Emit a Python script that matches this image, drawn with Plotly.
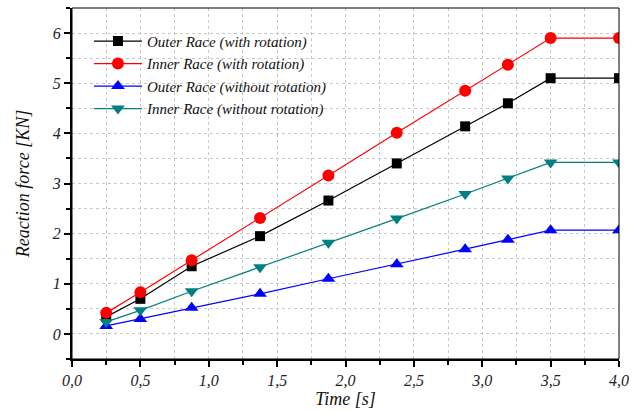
import plotly.graph_objects as go

time_s = [0.25, 0.5, 0.875, 1.375, 1.875, 2.375, 2.875, 3.1875, 3.5, 4.0]
outer_with = [0.34, 0.70, 1.35, 1.95, 2.66, 3.40, 4.14, 4.60, 5.10, 5.10]
inner_with = [0.42, 0.83, 1.47, 2.31, 3.16, 4.01, 4.85, 5.37, 5.90, 5.90]
outer_without = [0.16, 0.30, 0.52, 0.80, 1.10, 1.39, 1.69, 1.88, 2.07, 2.07]
inner_without = [0.24, 0.47, 0.85, 1.33, 1.82, 2.30, 2.79, 3.10, 3.42, 3.42]

x_tick_vals = [0.0, 0.5, 1.0, 1.5, 2.0, 2.5, 3.0, 3.5, 4.0]
x_tick_text = ["0,0", "0,5", "1,0", "1,5", "2,0", "2,5", "3,0", "3,5", "4,0"]
y_tick_vals = [0, 1, 2, 3, 4, 5, 6]

series = [
    ("Outer Race (with rotation)", outer_with, "#000000", "square", 10),
    ("Inner Race (with rotation)", inner_with, "#ff0000", "circle", 12),
    ("Outer Race (without rotation)", outer_without, "#0000ff", "triangle-up", 12),
    ("Inner Race (without rotation)", inner_without, "#008080", "triangle-down", 12),
]

FONT = "Liberation Serif, Times New Roman, serif"

fig = go.Figure()
for name, vals, color, sym, size in series:
    fig.add_trace(go.Scatter(
        x=time_s, y=vals, name=name, mode="lines+markers",
        line=dict(color=color, width=1.2),
        marker=dict(symbol=sym, size=size, color=color),
    ))

fig.update_layout(
    width=641, height=412,
    margin=dict(l=72, r=22, t=8, b=49),
    paper_bgcolor="white", plot_bgcolor="white",
    font=dict(family=FONT, size=15, color="#222222", style="italic"),
    showlegend=True,
    legend=dict(
        x=0.031, y=0.952, xanchor="left", yanchor="top",
        bgcolor="rgba(0,0,0,0)",
        font=dict(family=FONT, size=15, color="#111111", style="italic"),
        tracegroupgap=0, itemsizing="trace", itemwidth=48,
    ),
    shapes=[dict(type="rect", xref="paper", yref="paper", x0=0, y0=0, x1=1, y1=1,
                 line=dict(color="black", width=1))],
)

fig.update_xaxes(
    range=[0, 4], tickvals=x_tick_vals, ticktext=x_tick_text,
    showline=True, linecolor="black", linewidth=2,
    ticks="outside", ticklen=6, tickwidth=1.5, tickcolor="black",
    showgrid=True, gridcolor="#c8c8c8", griddash="dot", gridwidth=1,
    minor=dict(dtick=0.25, tick0=0, ticks="outside", ticklen=4, tickcolor="black",
               showgrid=True, gridcolor="#c8c8c8", griddash="dot", gridwidth=1),
    zeroline=False,
    title=dict(text="Time [s]", font=dict(family=FONT, size=18, style="italic", color="#111111"), standoff=2),
    tickfont=dict(family=FONT, size=16, style="italic"),
)
fig.update_yaxes(
    range=[-0.5, 6.5], tickvals=y_tick_vals,
    showline=True, linecolor="black", linewidth=2,
    ticks="outside", ticklen=6, tickwidth=1.5, tickcolor="black",
    showgrid=True, gridcolor="#c8c8c8", griddash="dot", gridwidth=1,
    minor=dict(dtick=0.5, tick0=0, ticks="outside", ticklen=4, tickcolor="black",
               showgrid=True, gridcolor="#c8c8c8", griddash="dot", gridwidth=1),
    zeroline=False,
    title=dict(text="Reaction force [KN]", font=dict(family=FONT, size=18, style="italic", color="#111111"), standoff=17),
    tickfont=dict(family=FONT, size=16, style="italic"),
)

fig.write_html("out.html", config={"displayModeBar": False},
               post_script="document.body.style.margin='0';")
